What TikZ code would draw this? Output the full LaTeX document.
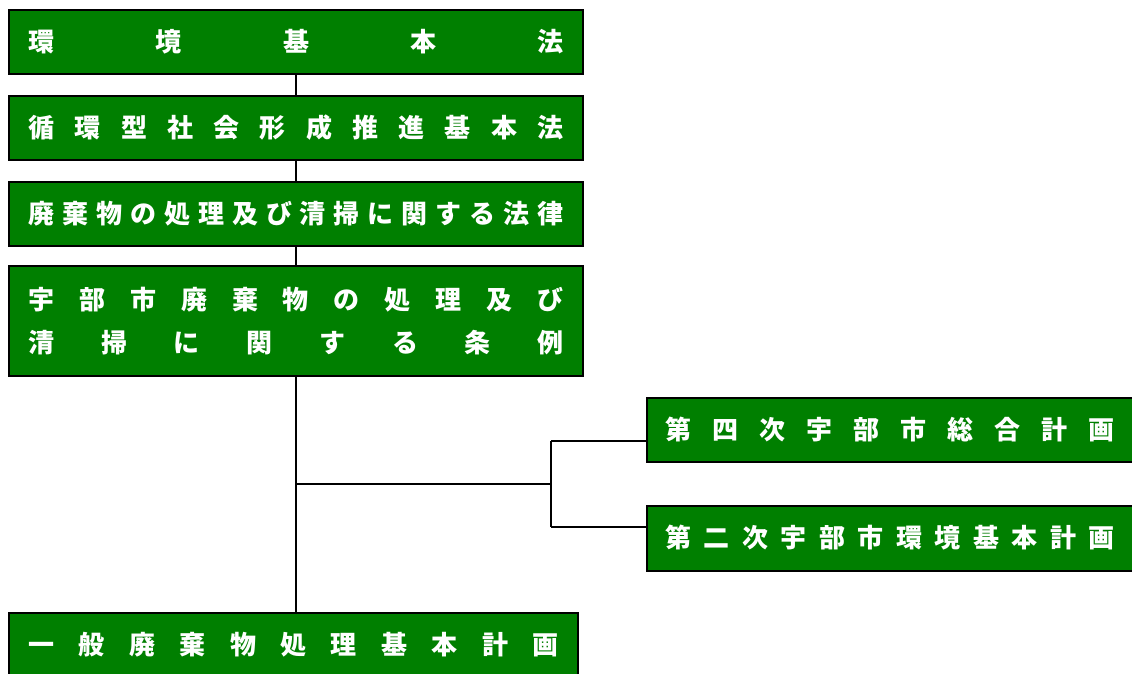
\documentclass[tikz,border=0pt]{standalone}
\usepackage{fontspec}
\newfontfamily\jp{Noto Sans CJK JP}
\definecolor{boxgreen}{HTML}{007F00}
\newcommand\spreadtext[2]{\makebox[#1pt]{#2}}
\begin{document}
\begin{tikzpicture}[x=1pt,y=1pt,
  gbox/.style={draw=black,line width=2pt,fill=boxgreen,inner sep=0pt,
     text=white,font=\jp\bfseries\fontsize{26}{43}\selectfont,align=center},
  conn/.style={draw=black,line width=2.5pt}]
\useasboundingbox (0,0) rectangle (1132,-673);
\node[gbox,minimum width=574,minimum height=64] (b1) at (296,-42)
  {\spreadtext{535}{環\hfill 境\hfill 基\hfill 本\hfill 法}};
\node[gbox,minimum width=574,minimum height=64] (b2) at (296,-128)
  {\spreadtext{535}{循\hfill 環\hfill 型\hfill 社\hfill 会\hfill 形\hfill 成\hfill 推\hfill 進\hfill 基\hfill 本\hfill 法}};
\node[gbox,minimum width=574,minimum height=64] (b3) at (296,-214)
  {\spreadtext{535}{廃\hfill 棄\hfill 物\hfill の\hfill 処\hfill 理\hfill 及\hfill び\hfill 清\hfill 掃\hfill に\hfill 関\hfill す\hfill る\hfill 法\hfill 律}};
\node[gbox,minimum width=574,minimum height=110] (b4) at (296,-321)
  {\spreadtext{535}{宇\hfill 部\hfill 市\hfill 廃\hfill 棄\hfill 物\hfill の\hfill 処\hfill 理\hfill 及\hfill び}\\
   \spreadtext{535}{清\hfill 掃\hfill に\hfill 関\hfill す\hfill る\hfill 条\hfill 例}};
\node[gbox,minimum width=486,minimum height=64] (pa) at (890,-430)
  {\spreadtext{450}{第\hfill 四\hfill 次\hfill 宇\hfill 部\hfill 市\hfill 総\hfill 合\hfill 計\hfill 画}};
\node[gbox,minimum width=486,minimum height=65] (pb) at (890,-538)
  {\spreadtext{450}{第\hfill 二\hfill 次\hfill 宇\hfill 部\hfill 市\hfill 環\hfill 境\hfill 基\hfill 本\hfill 計\hfill 画}};
\node[gbox,minimum width=569,minimum height=64] (b5) at (293.5,-645)
  {\spreadtext{530}{一\hfill 般\hfill 廃\hfill 棄\hfill 物\hfill 処\hfill 理\hfill 基\hfill 本\hfill 計\hfill 画}};
\coordinate (j) at (296,-484);
\coordinate (k) at (551,-484);
\coordinate (ka) at (551,-441);
\coordinate (kb) at (551,-527);
\draw[conn] (b1.south) -- (b2.north);
\draw[conn] (b2.south) -- (b3.north);
\draw[conn] (b3.south) -- (b4.north);
\draw[conn] (b4.south) -- (b4.south |- b5.north);
\draw[conn] (j) -- (k);
\draw[conn] (ka) -- (kb);
\draw[conn] (ka) -- (ka -| pa.west);
\draw[conn] (kb) -- (kb -| pb.west);
\end{tikzpicture}
\end{document}
